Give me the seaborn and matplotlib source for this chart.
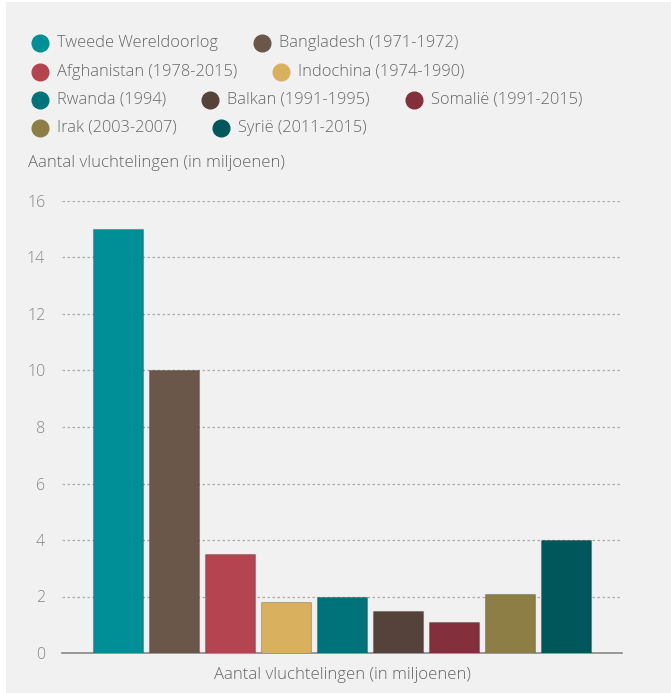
import seaborn as sns
import numpy as np
import pandas as pd
import matplotlib.pyplot as plt
from matplotlib.patches import Rectangle

sns.set_theme(style='white')
plt.rcParams['font.family'] = ['Open Sans', 'DejaVu Sans']

conflicten = ['Tweede Wereldoorlog', 'Bangladesh (1971-1972)', 'Afghanistan (1978-2015)',
              'Indochina (1974-1990)', 'Rwanda (1994)', 'Balkan (1991-1995)',
              'Somalië (1991-2015)', 'Irak (2003-2007)', 'Syrië (2011-2015)']
vluchtelingen = [15, 10, 3.5, 1.8, 2, 1.5, 1.1, 2.1, 4]
kleuren = ['#008f96', '#6b564a', '#b34450', '#d9b05e', '#00737a',
           '#55423a', '#83303c', '#8d7e46', '#00575b']
legenda_rijen = [[0, 1], [2, 3], [4, 5, 6], [7, 8]]
as_titel = 'Aantal vluchtelingen (in miljoenen)'

df = pd.DataFrame({'conflict': conflicten, 'miljoen': vluchtelingen})

W, H = 671, 693
fig = plt.figure(figsize=(W / 100, H / 100), dpi=100, facecolor='white')
# grijs paneel
fig.patches.append(Rectangle((6 / W, 0), 1, 1 - 2 / H, transform=fig.transFigure,
                             facecolor='#f1f1f1', edgecolor='none', zorder=-10))

ax = fig.add_axes([62 / W, 40 / H, 560 / W, 452 / H])
ax.set_facecolor('none')
sns.barplot(data=df, x='conflict', y='miljoen', hue='conflict', palette=kleuren,
            saturation=1, legend=False, width=0.89, ax=ax,
            edgecolor=(0, 0, 0, 0.2), linewidth=0.8, zorder=3)
ax.set_xlim(-1, len(conflicten))
ax.set_ylim(0, 16)
ax.set_yticks(range(0, 17, 2))
ax.set_xticks([])
ax.tick_params(axis='y', length=0, pad=12, labelsize=11.5, labelcolor='#858585')
for lbl in ax.get_yticklabels():
    lbl.set_fontweight('light')
ax.yaxis.grid(True, linestyle=(0, (2, 2)), color='#aaaaaa', linewidth=0.9, zorder=0)
for s in ['top', 'right', 'left']:
    ax.spines[s].set_visible(False)
ax.spines['bottom'].set_color('#888888')
ax.spines['bottom'].set_linewidth(1.2)
ax.set_xlabel(as_titel, fontsize=12.1, color='#666666', labelpad=10, fontweight='light')
ax.set_ylabel('')

fig.text(28 / W, 1 - 163 / H, as_titel, fontsize=12.1, color='#666666', va='center',
         fontweight='light')

# legenda als doorlopende rijen
fig.canvas.draw()
r = fig.canvas.get_renderer()
rij_y = [43, 72, 100, 128]
for rij, yy in zip(legenda_rijen, rij_y):
    x = 40
    for i in rij:
        fig.add_artist(plt.Line2D([x / W], [1 - yy / H], marker='o', markersize=12,
                                  color=kleuren[i], transform=fig.transFigure, linestyle='none'))
        t = fig.text((x + 17) / W, 1 - yy / H, conflicten[i], fontsize=11.8,
                     color='#666666', va='center', fontweight='light')
        bb = t.get_window_extent(r)
        x = bb.x1 + 44

fig.savefig('out.png', dpi=100, facecolor='white')
